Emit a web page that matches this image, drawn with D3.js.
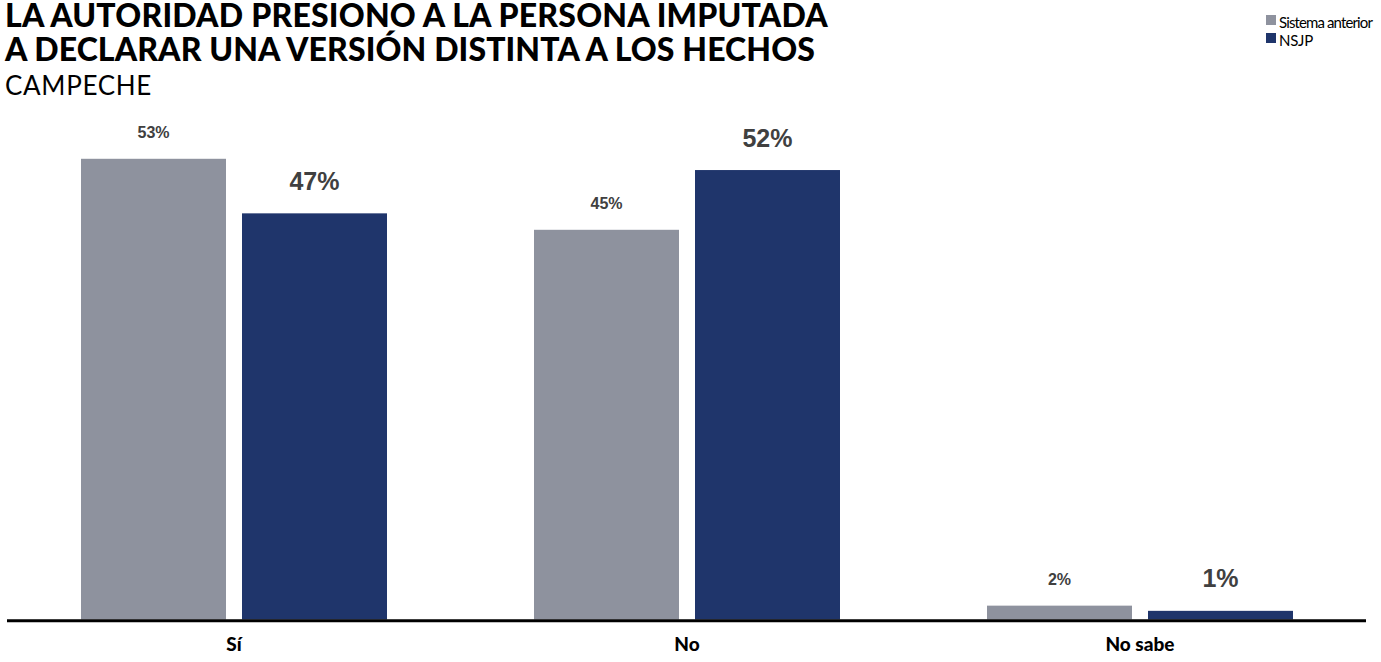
<!DOCTYPE html>
<html><head><meta charset="utf-8">
<script src="https://cdn.jsdelivr.net/npm/d3@7/dist/d3.min.js"></script>
<style>body{margin:0;background:#fff}svg{display:block}</style>
</head><body>
<svg id="c" width="1381" height="662"></svg>
<script>
const categories = ["Sí", "No", "No sabe"];
const seriesNames = ["Sistema anterior", "NSJP"];
const sistemaAnterior = [53.2, 45.0, 1.6];
const nsjp = [46.9, 51.9, 1.0];
const labelsAnterior = ["53%", "45%", "2%"];
const labelsNsjp = ["47%", "52%", "1%"];
const colors = ["#8E929E", "#1F356B"];

const svg = d3.select("#c");
const baseY = 619.5;
const x0 = d3.scaleBand().domain(categories).range([7.5, 1366.5]).paddingInner(0).paddingOuter(0);
const x1 = d3.scaleBand().domain(seriesNames).range([73.5, 73.5 + 306]).paddingInner(16/161).paddingOuter(0);
const y = d3.scaleLinear().domain([0, 60]).range([baseY, baseY - 60*8.66]);

const series = [
  {name: seriesNames[0], vals: sistemaAnterior, labels: labelsAnterior, size: 16, off: 21},
  {name: seriesNames[1], vals: nsjp, labels: labelsNsjp, size: 25, off: 23.5}
];

series.forEach((s, si) => {
  const g = svg.append("g");
  g.selectAll("rect").data(categories).join("rect")
    .attr("x", c => x0(c) + x1(s.name))
    .attr("y", (c,i) => y(s.vals[i]))
    .attr("width", x1.bandwidth())
    .attr("height", (c,i) => baseY - y(s.vals[i]))
    .attr("fill", colors[si]);
  g.selectAll("text").data(categories).join("text")
    .attr("x", c => x0(c) + x1(s.name) + x1.bandwidth()/2)
    .attr("y", (c,i) => y(s.vals[i]) - s.off)
    .attr("text-anchor", "middle")
    .attr("font-family", "'Liberation Sans', Arial, sans-serif")
    .attr("font-weight", "bold")
    .attr("font-size", s.size)
    .attr("fill", "#404040")
    .text((c,i) => s.labels[i]);
});

// axis
const xAxis = d3.axisBottom(x0).tickSize(0).tickPadding(18);
const ax = svg.append("g").attr("transform", `translate(0,${baseY})`).call(xAxis);
ax.select(".domain").attr("stroke", "#000").attr("stroke-width", 3).attr("d", "M7,1.2H1366");
ax.selectAll("text")
  .attr("font-family", "Lato, sans-serif")
  .attr("font-weight", 900)
  .attr("font-size", 19)
  .attr("fill", "#000")
  .attr("dy", "0.71em");

function fitSpacing(sel, target) {
  const n = sel.text().length;
  const w = sel.node().getComputedTextLength();
  sel.attr("letter-spacing", ((target - w) / n).toFixed(3) + "px");
}

// title
const title = svg.append("g").attr("font-family", "Lato, sans-serif");
fitSpacing(title.append("text").attr("x", 5).attr("y", 27).attr("font-weight", 900).attr("font-size", 32)
  .text("LA AUTORIDAD PRESIONO A LA PERSONA IMPUTADA"), 823);
fitSpacing(title.append("text").attr("x", 5).attr("y", 61).attr("font-weight", 900).attr("font-size", 32)
  .text("A DECLARAR UNA VERSIÓN DISTINTA A LOS HECHOS"), 810);
fitSpacing(title.append("text").attr("x", 5).attr("y", 95).attr("font-weight", 400).attr("font-size", 26)
  .text("CAMPECHE"), 147);

// legend
const leg = svg.append("g");
const legLens = [93, 34];
seriesNames.forEach((n, i) => {
  leg.append("rect").attr("x", 1266).attr("y", 15 + i*18).attr("width", 10).attr("height", 10).attr("fill", colors[i]);
  fitSpacing(leg.append("text").attr("x", 1279).attr("y", 28 + i*18)
    .attr("font-family", "Lato, sans-serif").attr("font-size", 15).attr("fill", "#000").text(n), legLens[i]);
});
</script>
</body></html>
